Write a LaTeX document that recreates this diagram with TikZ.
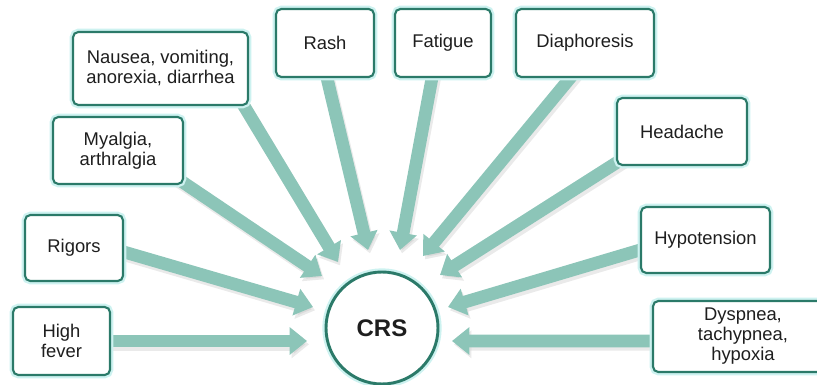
\documentclass[tikz,border=0pt]{standalone}
\usepackage{fontspec}
\setmainfont{Liberation Sans}
\usetikzlibrary{arrows.meta}
\definecolor{arrowc}{RGB}{140,197,184}
\definecolor{borderc}{RGB}{43,122,105}
\definecolor{glowc}{RGB}{205,242,240}
\definecolor{textc}{RGB}{30,30,30}
\begin{document}
\begin{tikzpicture}[x=0.75pt,y=-0.75pt,
  symbox/.style={draw=borderc, line width=1.6pt, fill=white, rounded corners=4pt,
    inner sep=0pt, align=center, text=textc,
    font=\fontsize{13.8}{15}\selectfont,
    preaction={draw=glowc, line width=5pt}},
  crsnode/.style={circle, draw=borderc, line width=2.2pt, fill=white, inner sep=0pt,
    minimum size=84pt, text=textc, font=\fontsize{18}{20}\selectfont\bfseries,
    preaction={draw=glowc, line width=5.5pt}},
  feed/.style={draw=arrowc, line width=9.5pt, shorten <=-10pt,
    -{Triangle[width=20pt,length=13pt]}},
  feedshadow/.style={draw=black!30, opacity=0.28, line width=9.5pt, shorten <=-10pt,
    -{Triangle[width=20pt,length=13pt]}, transform canvas={xshift=1.5pt,yshift=-2.5pt}}
]
\useasboundingbox (0,0) rectangle (817,385);
\clip (0,0) rectangle (817,385);

% symptom boxes (positions first, drawn later on top)
\path
  (61.5,341) node[symbox, minimum width=72.75pt, minimum height=51pt, opacity=0] (fever) {High\\fever}
  (74,248) node[symbox, minimum width=73.5pt, minimum height=49.5pt, opacity=0] (rigors) {Rigors}
  (118,150.5) node[symbox, minimum width=97.5pt, minimum height=50.25pt, opacity=0] (myalgia) {Myalgia,\\arthralgia}
  (160.5,68.5) node[symbox, minimum width=131.25pt, minimum height=54.75pt, opacity=0] (nausea) {Nausea, vomiting,\\anorexia, diarrhea}
  (325,43) node[symbox, minimum width=73.5pt, minimum height=51pt, opacity=0] (rash) {Rash}
  (443,43) node[symbox, minimum width=72pt, minimum height=51pt, opacity=0] (fatigue) {Fatigue}
  (585,43) node[symbox, minimum width=103.5pt, minimum height=51pt, opacity=0] (diaph) {Diaphoresis}
  (682,131.5) node[symbox, minimum width=97.5pt, minimum height=50.25pt, opacity=0] (headache) {Headache}
  (705.5,240) node[symbox, minimum width=96.75pt, minimum height=49.5pt, opacity=0] (hypo) {Hypotension}
  (743,336.5) node[symbox, minimum width=135pt, minimum height=53.25pt, opacity=0] (dysp) {Dyspnea,\\tachypnea,\\hypoxia};

% arrow tips
\coordinate (t1) at (307,341);
\coordinate (t2) at (313,307);
\coordinate (t3) at (322,276);
\coordinate (t4) at (338,262);
\coordinate (t5) at (368,250);
\coordinate (t6) at (400,250);
\coordinate (t7) at (423,256);
\coordinate (t8) at (440,275);
\coordinate (t9) at (448,307);
\coordinate (t10) at (452,341);

% arrow starts on boxes
\coordinate (s1) at (fever.east);
\coordinate (s2) at ([yshift=-3pt]rigors.east);
\coordinate (s3) at ([yshift=1.5pt]myalgia.south east);
\coordinate (s4) at ([xshift=-3.75pt]nausea.south east);
\coordinate (s5) at ([xshift=1.5pt]rash.south);
\coordinate (s6) at ([xshift=-8.25pt]fatigue.south);
\coordinate (s7) at ([xshift=-11.25pt]diaph.south);
\coordinate (s8) at ([yshift=2.25pt]headache.south west);
\coordinate (s9) at ([yshift=-7.5pt]hypo.west);
\coordinate (s10) at ([yshift=-3.4pt]dysp.west);

% shadows
\foreach \i in {1,...,10} {
  \draw[feedshadow] (s\i) -- (t\i);
}
% arrows
\foreach \i in {1,...,10} {
  \draw[feed] (s\i) -- (t\i);
}

% boxes drawn on top
\node[symbox, minimum width=72.75pt, minimum height=51pt] at (fever) {High\\fever};
\node[symbox, minimum width=73.5pt, minimum height=49.5pt] at (rigors) {Rigors};
\node[symbox, minimum width=97.5pt, minimum height=50.25pt] at (myalgia) {Myalgia,\\arthralgia};
\node[symbox, minimum width=131.25pt, minimum height=54.75pt] at (nausea) {Nausea, vomiting,\\anorexia, diarrhea};
\node[symbox, minimum width=73.5pt, minimum height=51pt] at (rash) {Rash};
\node[symbox, minimum width=72pt, minimum height=51pt] at (fatigue) {Fatigue};
\node[symbox, minimum width=103.5pt, minimum height=51pt] at (diaph) {Diaphoresis};
\node[symbox, minimum width=97.5pt, minimum height=50.25pt] at (headache) {Headache};
\node[symbox, minimum width=96.75pt, minimum height=49.5pt] at (hypo) {Hypotension};
\node[symbox, minimum width=135pt, minimum height=53.25pt] at (dysp) {Dyspnea,\\tachypnea,\\hypoxia};

\node[crsnode] (crs) at (382,328) {CRS};
\end{tikzpicture}
\end{document}
